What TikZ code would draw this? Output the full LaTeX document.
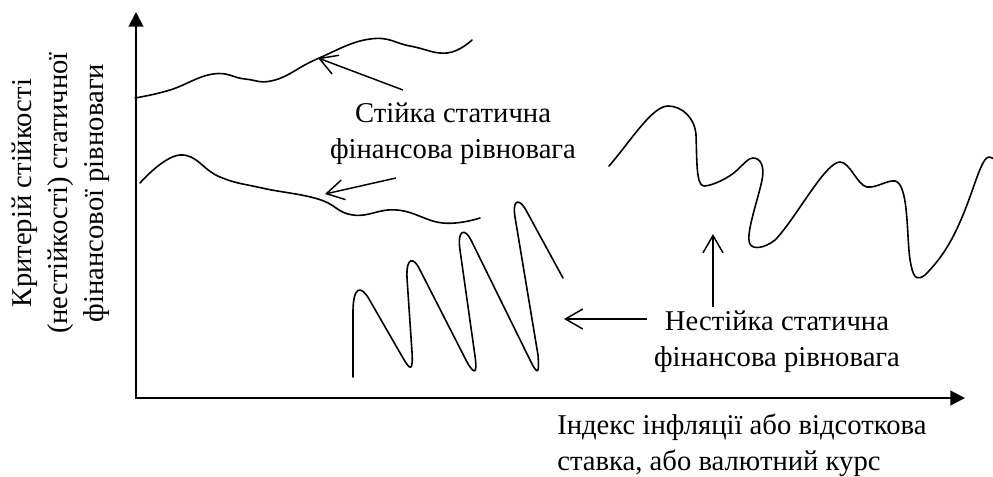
\documentclass[tikz,border=0pt]{standalone}
\usepackage{fontspec}
\setmainfont{Liberation Serif}
\usetikzlibrary{arrows.meta}
\begin{document}
\begin{tikzpicture}[x=0.75pt,y=-0.75pt,
  axis/.style={line width=1.5pt,{Triangle[length=11pt,width=11pt]}-{Triangle[length=11pt,width=11pt]}},
  curve/.style={line width=1.2pt,line join=round,line cap=round},
  pointer/.style={line width=1.1pt,-{Straight Barb[length=13pt,width=15pt]}},
  lbl/.style={font=\fontsize{21.5}{27}\selectfont,align=center,inner sep=0pt}]
\useasboundingbox (0,0) rectangle (993,476);
% axes
\coordinate (O) at (136,398);
\coordinate (Ytip) at (136,12);
\coordinate (Xtip) at (965,398);
\draw[axis] (Ytip) -- (O) -- (Xtip);
% stable curves
\draw[curve] plot[smooth,tension=0.75] coordinates {(135,98) (170,90) (213,74) (245,79) (275,80) (317,59) (370,39) (410,46) (447,53) (472,40)};
\draw[curve] plot[smooth,tension=0.75] coordinates {(140,183) (180,155) (220,177) (262,188) (318,199) (353,215) (397,210) (443,223) (480,218)};
% zigzag
\draw[curve] (353,377) -- (353,312)
  .. controls (353,286) and (361,285) .. (369,299) -- (403,358)
  .. controls (411,372) and (413,370) .. (412,352) -- (407,278)
  .. controls (406,256) and (414,257) .. (420,270) -- (467,362)
  .. controls (476,378) and (477,370) .. (475,356) -- (460,250)
  .. controls (457,229) and (465,228) .. (471,240) -- (531,362)
  .. controls (539,378) and (539,370) .. (538,355) -- (515,217)
  .. controls (512,198) and (520,198) .. (527,212) -- (563,278);
% right curve
\begin{scope}
\clip (0,0) rectangle (993,476);
\draw[curve] (609,166) .. controls (630,142) and (652,106) .. (668,106)
  .. controls (682,106) and (695,118) .. (696,135)
  .. controls (697,160) and (696,186) .. (704,186)
  .. controls (712,186) and (728,178) .. (735,172)
  .. controls (745,163) and (748,158) .. (753,158)
  .. controls (760,158) and (765,165) .. (762,180)
  .. controls (758,200) and (745,235) .. (750,244)
  .. controls (753,250) and (765,248) .. (775,240)
  .. controls (795,220) and (825,162) .. (840,162)
  .. controls (850,162) and (857,185) .. (867,187)
  .. controls (877,188) and (887,180) .. (895,181)
  .. controls (910,184) and (906,245) .. (911,265)
  .. controls (914,280) and (918,280) .. (925,275)
  .. controls (945,255) and (955,235) .. (965,210)
  .. controls (975,185) and (982,157) .. (989,157)
  .. controls (992,157) and (994,159) .. (996,161);
\end{scope}
% labels
\node[lbl] (stable) at (453,134) {Стійка статична\\фінансова рівновага};
\node[lbl] (unstable) at (777,342) {Нестійка статична\\фінансова рівновага};
\node[lbl,align=left,anchor=west] (xlabel) at (557,445) {Індекс інфляції або відсоткова\\ставка, або валютний курс};
\node[lbl,rotate=90] (ylabel) at (61,193) {Критерій стійкості\\(нестійкості) статичної\\фінансової рівноваги};
% pointers
\coordinate (p1s) at (403,90);  \coordinate (p1e) at (318,58);
\coordinate (p2s) at (396,178); \coordinate (p2e) at (325,194);
\coordinate (p3s) at (647,319); \coordinate (p3e) at (564,319);
\coordinate (p4s) at (713,307); \coordinate (p4e) at (713,234);
\draw[pointer] (p1s) -- (p1e);
\draw[pointer] (p2s) -- (p2e);
\draw[pointer] (p3s) -- (p3e);
\draw[pointer] (p4s) -- (p4e);
\end{tikzpicture}
\end{document}
